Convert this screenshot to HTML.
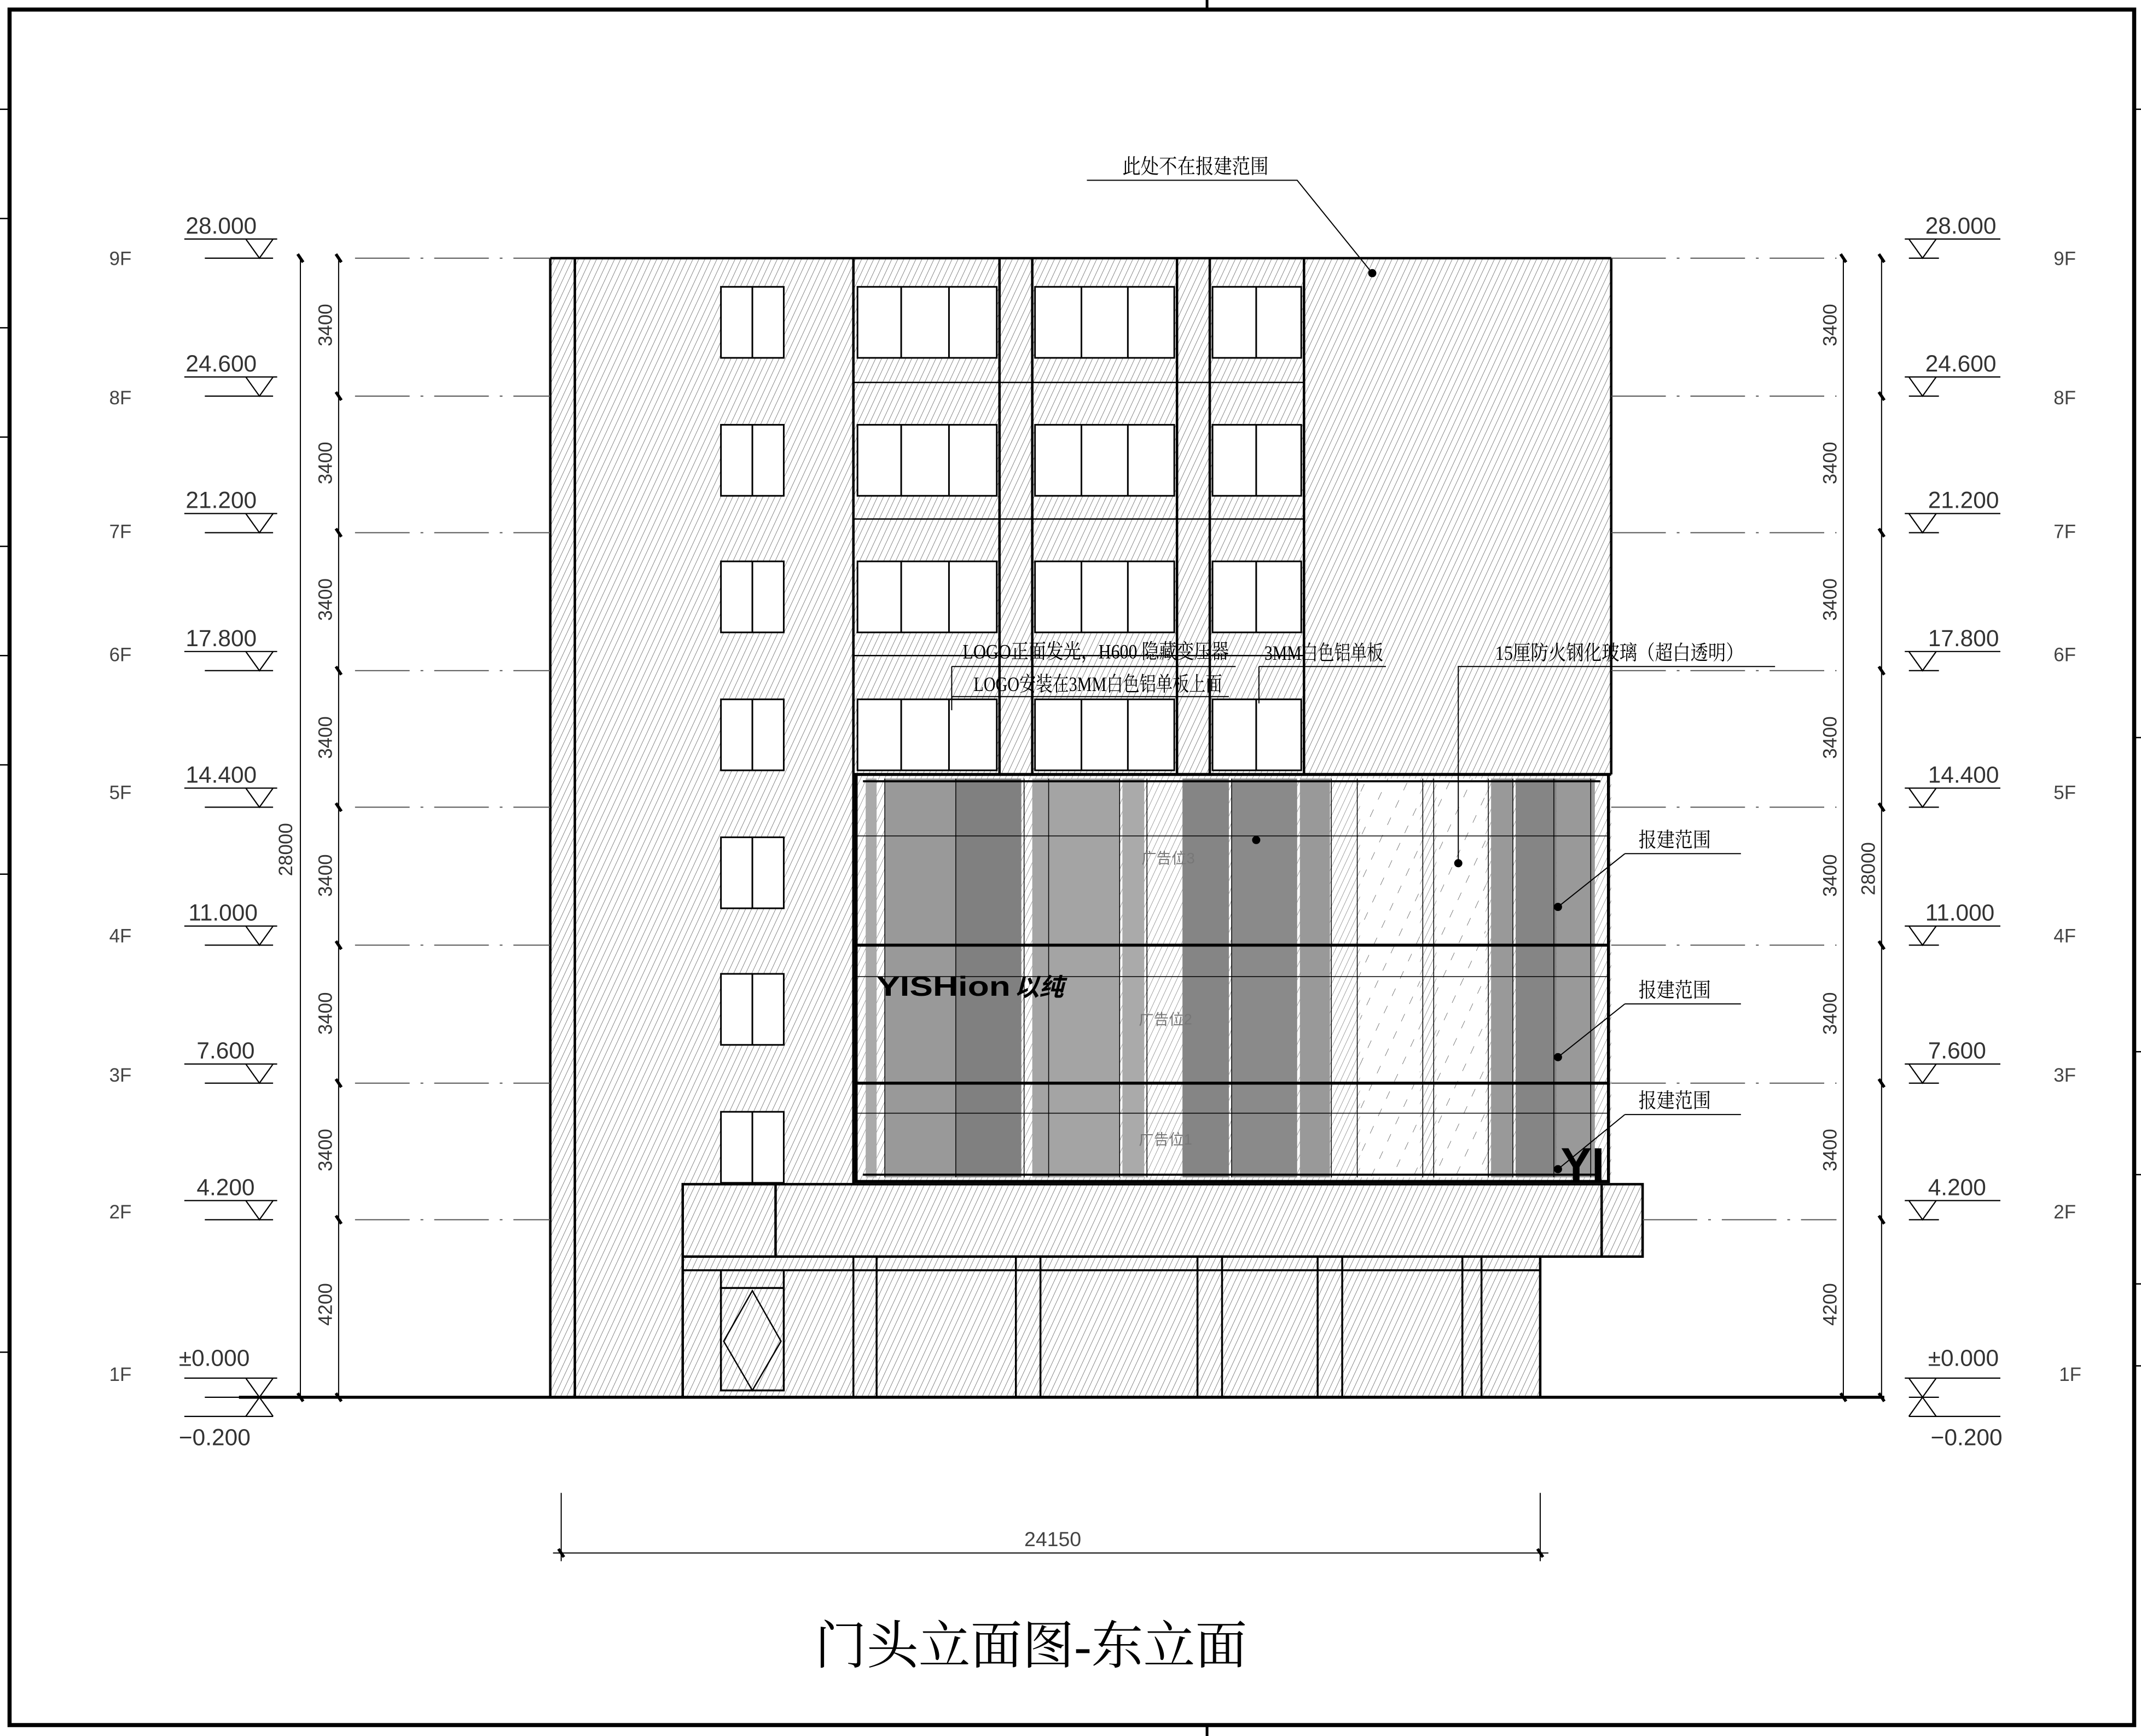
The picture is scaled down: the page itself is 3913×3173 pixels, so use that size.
<!DOCTYPE html>
<html><head><meta charset="utf-8"><style>html,body{margin:0;padding:0;background:#fff}svg{display:block}</style></head><body>
<svg xmlns="http://www.w3.org/2000/svg" width="3913" height="3173" viewBox="0 0 1568 1271" preserveAspectRatio="none" font-family="'Liberation Sans','Noto Sans CJK SC',sans-serif">
<defs>
<pattern id="h" patternUnits="userSpaceOnUse" width="4" height="4" patternTransform="rotate(25)"><line x1="0" y1="0" x2="0" y2="4" stroke="#444" stroke-width="0.5"/></pattern>
<pattern id="hs" patternUnits="userSpaceOnUse" width="14" height="14" patternTransform="rotate(25)"><line x1="0" y1="0" x2="0" y2="6" stroke="#333" stroke-width="0.5"/></pattern>
<g id="em"><line x1="135" y1="-14" x2="203" y2="-14"/><polyline points="180,-14 190,0 200,-14"/><line x1="150" y1="0" x2="200" y2="0"/></g>
<g id="er"><line x1="1395" y1="-14" x2="1465" y2="-14"/><polyline points="1398,-14 1408,0 1418,-14"/><line x1="1398" y1="0" x2="1420" y2="0"/></g>
<g id="wr">
<rect x="628" y="210" width="102" height="52"/><line x1="660" y1="210" x2="660" y2="262"/><line x1="695" y1="210" x2="695" y2="262"/>
<rect x="758" y="210" width="102" height="52"/><line x1="792" y1="210" x2="792" y2="262"/><line x1="826" y1="210" x2="826" y2="262"/>
<rect x="888" y="210" width="65" height="52"/><line x1="920" y1="210" x2="920" y2="262"/>
<rect x="528" y="210" width="46" height="52"/><line x1="551" y1="210" x2="551" y2="262"/>
</g>
<g id="lw"><rect x="528" y="613" width="46" height="52"/><line x1="551" y1="613" x2="551" y2="665"/></g>
</defs>
<rect width="1568" height="1271" fill="#fff"/>
<rect x="7" y="7" width="1556" height="1256" fill="none" stroke="#000" stroke-width="3"/>
<line x1="884" y1="0" x2="884" y2="7" stroke="#000" stroke-width="2"/>
<line x1="884" y1="1263" x2="884" y2="1271" stroke="#000" stroke-width="2"/>
<g stroke="#000" stroke-width="1">
<line x1="0" y1="80" x2="7" y2="80"/><line x1="0" y1="160" x2="7" y2="160"/><line x1="0" y1="240" x2="7" y2="240"/><line x1="0" y1="320" x2="7" y2="320"/><line x1="0" y1="400" x2="7" y2="400"/><line x1="0" y1="480" x2="7" y2="480"/><line x1="0" y1="560" x2="7" y2="560"/><line x1="0" y1="640" x2="7" y2="640"/><line x1="0" y1="990" x2="7" y2="990"/>
<line x1="1563" y1="80" x2="1568" y2="80"/><line x1="1563" y1="540" x2="1568" y2="540"/><line x1="1563" y1="770" x2="1568" y2="770"/><line x1="1563" y1="860" x2="1568" y2="860"/><line x1="1563" y1="940" x2="1568" y2="940"/><line x1="1563" y1="1000" x2="1568" y2="1000"/>
</g>

<rect x="403" y="189" width="777" height="678" fill="url(#h)"/>
<rect x="403" y="867" width="800" height="53" fill="url(#h)"/>
<rect x="403" y="920" width="725" height="103" fill="url(#h)"/>
<!-- glass block -->
<rect x="627" y="567" width="551" height="298" fill="#fff"/>
<rect x="627" y="567" width="551" height="298" fill="url(#h)" opacity="0.8"/>
<g fill="#8a8a8a">
<rect x="634" y="570" width="8" height="292" fill="#aaa"/>
<rect x="648" y="570" width="52" height="292" fill="#999"/>
<rect x="700" y="570" width="48" height="292" fill="#808080"/>
<rect x="756" y="570" width="64" height="292" fill="#a4a4a4"/>
<rect x="822" y="570" width="16" height="292" fill="#aaa"/>
<rect x="866" y="570" width="34" height="292" fill="#858585"/>
<rect x="902" y="570" width="48" height="292" fill="#8a8a8a"/>
<rect x="952" y="570" width="22" height="292" fill="#999"/>
<rect x="1092" y="570" width="16" height="292" fill="#999"/>
<rect x="1110" y="570" width="30" height="292" fill="#858585"/>
<rect x="1140" y="570" width="28" height="292" fill="#999"/>
</g>
<rect x="996" y="570" width="44" height="292" fill="#fff"/>
<rect x="996" y="570" width="44" height="292" fill="url(#hs)"/>
<rect x="1052" y="570" width="36" height="292" fill="#fff"/>
<rect x="1052" y="570" width="36" height="292" fill="url(#hs)"/>
<g stroke="#000" stroke-width="0.6">
<line x1="648" y1="570" x2="648" y2="862"/><line x1="700" y1="570" x2="700" y2="862"/><line x1="750" y1="570" x2="750" y2="862"/><line x1="768" y1="570" x2="768" y2="862"/><line x1="820" y1="570" x2="820" y2="862"/><line x1="840" y1="570" x2="840" y2="862"/><line x1="902" y1="570" x2="902" y2="862"/><line x1="975" y1="570" x2="975" y2="862"/><line x1="994" y1="570" x2="994" y2="862"/><line x1="1042" y1="570" x2="1042" y2="862"/><line x1="1050" y1="570" x2="1050" y2="862"/><line x1="1090" y1="570" x2="1090" y2="862"/><line x1="1108" y1="570" x2="1108" y2="862"/><line x1="1138" y1="570" x2="1138" y2="862"/><line x1="1165" y1="570" x2="1165" y2="862"/>
<line x1="627" y1="612" x2="1178" y2="612"/><line x1="627" y1="715" x2="1178" y2="715"/><line x1="627" y1="815" x2="1178" y2="815"/>
</g>
<g stroke="#000" stroke-width="2.2" fill="none">
<rect x="627" y="567" width="551" height="298"/>
<line x1="627" y1="692" x2="1178" y2="692"/><line x1="627" y1="793" x2="1178" y2="793"/>
<line x1="632" y1="572" x2="1172" y2="572" stroke-width="1.5"/>
<line x1="632" y1="860" x2="1172" y2="860" stroke-width="1.5"/>
</g>
<text x="642" y="729" font-size="20" font-weight="bold" fill="#000" textLength="98" lengthAdjust="spacingAndGlyphs">YISHion</text>
<text x="743" y="729" font-size="18" font-weight="bold" font-style="italic" fill="#000">以纯</text>
<text x="1143" y="864" font-size="34" font-weight="bold" fill="#000">YI</text>
<text x="836" y="632" font-size="11" fill="#777">广告位3</text>
<text x="834" y="750" font-size="11" fill="#777">广告位2</text>
<text x="834" y="838" font-size="11" fill="#777">广告位1</text>

<g stroke="#000" fill="none" stroke-width="1.8">
<line x1="403" y1="189" x2="1180" y2="189"/>
<line x1="1180" y1="189" x2="1180" y2="567"/>
<line x1="625" y1="567" x2="1180" y2="567"/>
<line x1="403" y1="189" x2="403" y2="1023"/>
<line x1="421" y1="189" x2="421" y2="1023"/>
<line x1="625" y1="189" x2="625" y2="867"/>
<line x1="955" y1="189" x2="955" y2="567"/>
<line x1="732" y1="189" x2="732" y2="567"/><line x1="756" y1="189" x2="756" y2="567"/>
<line x1="862" y1="189" x2="862" y2="567"/><line x1="886" y1="189" x2="886" y2="567"/>
<rect x="500" y="867" width="703" height="53"/>
<line x1="568" y1="867" x2="568" y2="920"/><line x1="1173" y1="867" x2="1173" y2="920"/>
<line x1="500" y1="920" x2="500" y2="1023"/><line x1="1128" y1="920" x2="1128" y2="1023"/>
</g>
<g stroke="#000" fill="#fff" stroke-width="1.2">
<use href="#wr"/><use href="#wr" y="101"/><use href="#wr" y="201"/><use href="#wr" y="302"/>
<use href="#lw"/><use href="#lw" y="100"/><use href="#lw" y="201"/>
</g>
<g stroke="#000" stroke-width="1" fill="none">
<line x1="625" y1="280" x2="955" y2="280"/><line x1="625" y1="380" x2="955" y2="380"/><line x1="625" y1="480" x2="955" y2="480"/>
</g>
<g stroke="#000" stroke-width="1.4" fill="none">
<line x1="500" y1="930" x2="1128" y2="930"/>
<rect x="625" y="920" width="17" height="103"/><rect x="744" y="920" width="18" height="103"/><rect x="877" y="920" width="18" height="103"/><rect x="965" y="920" width="18" height="103"/><rect x="1071" y="920" width="14" height="103"/>
<rect x="528" y="930" width="46" height="88"/><line x1="528" y1="943" x2="574" y2="943"/>
<polygon points="551,945 572,982 551,1018 530,982" stroke-width="1"/>
</g>
<line x1="175" y1="1023" x2="1380" y2="1023" stroke="#000" stroke-width="2.2"/>

<g stroke="#555" stroke-width="0.8" stroke-dasharray="40 8 2 8">
<line x1="260" y1="189" x2="403" y2="189"/><line x1="260" y1="290" x2="403" y2="290"/><line x1="260" y1="390" x2="403" y2="390"/><line x1="260" y1="491" x2="403" y2="491"/><line x1="260" y1="591" x2="403" y2="591"/><line x1="260" y1="692" x2="403" y2="692"/><line x1="260" y1="793" x2="403" y2="793"/><line x1="260" y1="893" x2="403" y2="893"/>
<line x1="1180" y1="189" x2="1345" y2="189"/><line x1="1180" y1="290" x2="1345" y2="290"/><line x1="1180" y1="390" x2="1345" y2="390"/><line x1="1180" y1="491" x2="1345" y2="491"/><line x1="1180" y1="591" x2="1345" y2="591"/><line x1="1180" y1="692" x2="1345" y2="692"/><line x1="1180" y1="793" x2="1345" y2="793"/><line x1="1203" y1="893" x2="1345" y2="893"/>
</g>

<g stroke="#000" stroke-width="0.8" fill="none">
<line x1="220" y1="189" x2="220" y2="1023"/><line x1="248" y1="189" x2="248" y2="1023"/>
<line x1="1350" y1="189" x2="1350" y2="1023"/><line x1="1378" y1="189" x2="1378" y2="1023"/>
</g>
<g stroke="#000" stroke-width="2.2">
<line x1="218" y1="186" x2="222" y2="192"/><line x1="218" y1="1020" x2="222" y2="1026"/>
<line x1="1348" y1="186" x2="1352" y2="192"/><line x1="1348" y1="1020" x2="1352" y2="1026"/>
<line x1="246" y1="186" x2="250" y2="192"/><line x1="246" y1="287" x2="250" y2="293"/><line x1="246" y1="387" x2="250" y2="393"/><line x1="246" y1="488" x2="250" y2="494"/><line x1="246" y1="588" x2="250" y2="594"/><line x1="246" y1="689" x2="250" y2="695"/><line x1="246" y1="790" x2="250" y2="796"/><line x1="246" y1="890" x2="250" y2="896"/><line x1="246" y1="1020" x2="250" y2="1026"/>
<line x1="1376" y1="186" x2="1380" y2="192"/><line x1="1376" y1="287" x2="1380" y2="293"/><line x1="1376" y1="387" x2="1380" y2="393"/><line x1="1376" y1="488" x2="1380" y2="494"/><line x1="1376" y1="588" x2="1380" y2="594"/><line x1="1376" y1="689" x2="1380" y2="695"/><line x1="1376" y1="790" x2="1380" y2="796"/><line x1="1376" y1="890" x2="1380" y2="896"/><line x1="1376" y1="1020" x2="1380" y2="1026"/>
</g>
<g font-size="14" fill="#333" text-anchor="middle">
<text transform="translate(243,238) rotate(-90)">3400</text><text transform="translate(243,339) rotate(-90)">3400</text><text transform="translate(243,439) rotate(-90)">3400</text><text transform="translate(243,540) rotate(-90)">3400</text><text transform="translate(243,641) rotate(-90)">3400</text><text transform="translate(243,742) rotate(-90)">3400</text><text transform="translate(243,842) rotate(-90)">3400</text><text transform="translate(243,955) rotate(-90)">4200</text>
<text transform="translate(214,622) rotate(-90)">28000</text>
<text transform="translate(1345,238) rotate(-90)">3400</text><text transform="translate(1345,339) rotate(-90)">3400</text><text transform="translate(1345,439) rotate(-90)">3400</text><text transform="translate(1345,540) rotate(-90)">3400</text><text transform="translate(1345,641) rotate(-90)">3400</text><text transform="translate(1345,742) rotate(-90)">3400</text><text transform="translate(1345,842) rotate(-90)">3400</text><text transform="translate(1345,955) rotate(-90)">4200</text>
<text transform="translate(1373,636) rotate(-90)">28000</text>
</g>
<g stroke="#000" stroke-width="0.9" fill="none">
<use href="#em" y="189"/><use href="#em" y="290"/><use href="#em" y="390"/><use href="#em" y="491"/><use href="#em" y="591"/><use href="#em" y="692"/><use href="#em" y="793"/><use href="#em" y="893"/><use href="#em" y="1023"/>
<use href="#er" y="189"/><use href="#er" y="290"/><use href="#er" y="390"/><use href="#er" y="491"/><use href="#er" y="591"/><use href="#er" y="692"/><use href="#er" y="793"/><use href="#er" y="893"/><use href="#er" y="1023"/>
<polyline points="180,1037 190,1023 200,1037"/><polyline points="1398,1037 1408,1023 1418,1037"/>
<line x1="135" y1="1037" x2="200" y2="1037"/><line x1="1398" y1="1037" x2="1465" y2="1037"/>
</g>
<g font-size="17" fill="#333">
<text x="136" y="171">28.000</text><text x="136" y="272">24.600</text><text x="136" y="372">21.200</text><text x="136" y="473">17.800</text><text x="136" y="573">14.400</text><text x="138" y="674">11.000</text><text x="144" y="775">7.600</text><text x="144" y="875">4.200</text><text x="131" y="1000">±0.000</text><text x="131" y="1058">−0.200</text>
<text x="1410" y="171">28.000</text><text x="1410" y="272">24.600</text><text x="1412" y="372">21.200</text><text x="1412" y="473">17.800</text><text x="1412" y="573">14.400</text><text x="1410" y="674">11.000</text><text x="1412" y="775">7.600</text><text x="1412" y="875">4.200</text><text x="1412" y="1000">±0.000</text><text x="1414" y="1058">−0.200</text>
</g>
<g font-size="14" fill="#444">
<text x="80" y="194">9F</text><text x="80" y="296">8F</text><text x="80" y="394">7F</text><text x="80" y="484">6F</text><text x="80" y="585">5F</text><text x="80" y="690">4F</text><text x="80" y="792">3F</text><text x="80" y="892">2F</text><text x="80" y="1011">1F</text>
<text x="1504" y="194">9F</text><text x="1504" y="296">8F</text><text x="1504" y="394">7F</text><text x="1504" y="484">6F</text><text x="1504" y="585">5F</text><text x="1504" y="690">4F</text><text x="1504" y="792">3F</text><text x="1504" y="892">2F</text><text x="1508" y="1011">1F</text>
</g>

<g stroke="#000" stroke-width="0.8" fill="none">
<polyline points="796,132 950,132 1005,200"/>
<line x1="697" y1="488" x2="905" y2="488"/><line x1="697" y1="488" x2="697" y2="520"/>
<line x1="922" y1="488" x2="1015" y2="488"/><line x1="922" y1="488" x2="922" y2="515"/>
<polyline points="1068,632 1068,488 1300,488"/>
<line x1="697" y1="510" x2="900" y2="510"/>
<line x1="1141" y1="664" x2="1190" y2="625"/><line x1="1190" y1="625" x2="1275" y2="625"/>
<line x1="1141" y1="774" x2="1190" y2="735"/><line x1="1190" y1="735" x2="1275" y2="735"/>
<line x1="1141" y1="856" x2="1190" y2="816"/><line x1="1190" y1="816" x2="1275" y2="816"/>
</g>
<g fill="#000">
<circle cx="1005" cy="200" r="3"/><circle cx="920" cy="615" r="3"/><circle cx="1068" cy="632" r="3"/><circle cx="1141" cy="664" r="3"/><circle cx="1141" cy="774" r="3"/><circle cx="1141" cy="856" r="3"/>
</g>
<g font-family="'Liberation Serif','Noto Serif CJK SC',serif" font-size="15" fill="#000" lengthAdjust="spacingAndGlyphs">
<text x="822" y="127" textLength="107" lengthAdjust="spacingAndGlyphs">此处不在报建范围</text>
<text x="705" y="482" textLength="195" lengthAdjust="spacingAndGlyphs">LOGO正面发光，H600 隐藏变压器</text>
<text x="713" y="506" textLength="182" lengthAdjust="spacingAndGlyphs">LOGO安装在3MM白色铝单板上面</text>
<text x="926" y="483" textLength="87" lengthAdjust="spacingAndGlyphs">3MM白色铝单板</text>
<text x="1095" y="483" textLength="182" lengthAdjust="spacingAndGlyphs">15厘防火钢化玻璃（超白透明）</text>
<text x="1200" y="620" textLength="53" lengthAdjust="spacingAndGlyphs">报建范围</text>
<text x="1200" y="730" textLength="53" lengthAdjust="spacingAndGlyphs">报建范围</text>
<text x="1200" y="811" textLength="53" lengthAdjust="spacingAndGlyphs">报建范围</text>
</g>
<g stroke="#000" stroke-width="0.8">
<line x1="411" y1="1093" x2="411" y2="1143"/><line x1="1128" y1="1093" x2="1128" y2="1143"/>
<line x1="405" y1="1137" x2="1134" y2="1137"/>
</g>
<g stroke="#000" stroke-width="2.2"><line x1="409" y1="1134" x2="413" y2="1140"/><line x1="1126" y1="1134" x2="1130" y2="1140"/></g>
<text x="771" y="1132" font-size="15" fill="#444" text-anchor="middle">24150</text>
<text x="755" y="1218" font-family="'Liberation Serif','Noto Serif CJK SC',serif" font-size="38" fill="#000" text-anchor="middle">门头立面图-东立面</text>
</svg>
</body></html>
